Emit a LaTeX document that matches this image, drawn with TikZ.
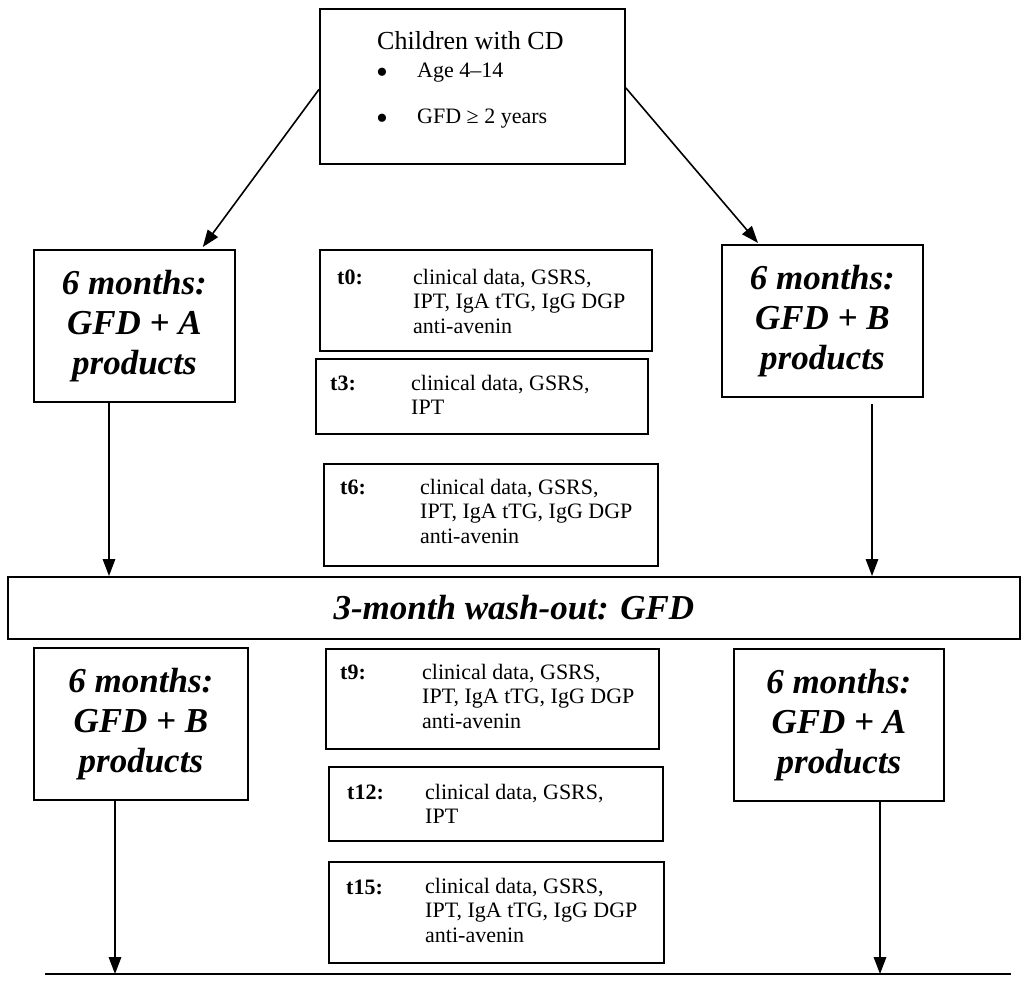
\documentclass[tikz,border=0pt]{standalone}
\usepackage{fontspec}
\setmainfont{Liberation Serif}
\usetikzlibrary{arrows.meta,calc}
\begin{document}
\begin{tikzpicture}[x=1pt,y=-1pt,
  box/.style={draw,line width=1.8pt,inner sep=0pt,anchor=north west},
  arr/.style={line width=1.6pt,-{Triangle[length=17pt,width=12.5pt]}},
  big/.style={font=\fontsize{35}{40}\selectfont\bfseries\itshape,align=center},
  small/.style={font=\fontsize{22}{24.5}\selectfont,anchor=west,align=left,inner sep=0pt},
  bul/.style={font=\fontsize{34}{34}\selectfont,anchor=center,inner sep=0pt},
  lab/.style={font=\fontsize{22}{24.5}\selectfont\bfseries,anchor=west,inner sep=0pt}]
\useasboundingbox (0,0) rectangle (1024,987);
\fill[white] (0,0) rectangle (1024,987);

% top box
\node[box,minimum width=305pt,minimum height=155pt] (top) at (319,8) {};
\node[font=\fontsize{26}{30}\selectfont,anchor=west,inner sep=0pt] (title) at (377,41) {Children with CD};
\node[bul] (b1) at (382,76) {•};
\node[small] (i1) at (417,73) {Age 4–14};
\node[bul] (b2) at (382,122) {•};
\node[small] (i2) at (417,119) {GFD ≥ 2 years};

% arm boxes
\node[box,big,minimum width=201pt,minimum height=152pt] (a1) at (33,249) {6 months:\\GFD + A\\products};
\node[box,big,minimum width=201pt,minimum height=152pt] (b1box) at (721,244) {6 months:\\GFD + B\\products};
\node[box,big,minimum width=214pt,minimum height=152pt] (b2box) at (33,647) {6 months:\\GFD + B\\products};
\node[box,big,minimum width=210pt,minimum height=152pt] (a2) at (733,648) {6 months:\\GFD + A\\products};

% washout
\node[box,big,minimum width=1012pt,minimum height=62pt] (wash) at (7,576) {3-month wash-out: GFD};

% time point boxes
\node[box,minimum width=332pt,minimum height=101pt] (t0) at (319,249) {};
\node[lab] (t0l) at (337,277) {t0:};
\node[small] (t0t) at (413,301) {clinical data, GSRS,\\IPT, IgA tTG, IgG DGP\\anti-avenin};

\node[box,minimum width=332pt,minimum height=75pt] (t3) at (315,358) {};
\node[lab] (t3l) at (330,383) {t3:};
\node[small] (t3t) at (411,395) {clinical data, GSRS,\\IPT};

\node[box,minimum width=334pt,minimum height=102pt] (t6) at (323,463) {};
\node[lab] (t6l) at (340,487) {t6:};
\node[small] (t6t) at (420,511) {clinical data, GSRS,\\IPT, IgA tTG, IgG DGP\\anti-avenin};

\node[box,minimum width=333pt,minimum height=100pt] (t9) at (325,648) {};
\node[lab] (t9l) at (340,672) {t9:};
\node[small] (t9t) at (422,696) {clinical data, GSRS,\\IPT, IgA tTG, IgG DGP\\anti-avenin};

\node[box,minimum width=334pt,minimum height=74pt] (t12) at (328,766) {};
\node[lab] (t12l) at (347,792) {t12:};
\node[small] (t12t) at (425,804) {clinical data, GSRS,\\IPT};

\node[box,minimum width=335pt,minimum height=101pt] (t15) at (328,861) {};
\node[lab] (t15l) at (346,887) {t15:};
\node[small] (t15t) at (425,910) {clinical data, GSRS,\\IPT, IgA tTG, IgG DGP\\anti-avenin};

% connectors
\coordinate (s1) at ($(top.west)+(0,3)$);
\coordinate (e1) at ($(a1.north east)+(-33,-2)$);
\draw[arr] (s1) -- (e1);
\coordinate (s2) at ($(top.east)+(0,1.5)$);
\coordinate (e2) at ($(b1box.north west)+(37,-1)$);
\draw[arr] (s2) -- (e2);

\coordinate (p1) at ($(a1.south west)+(76,0)$);
\draw[arr] (p1) -- (p1 |- wash.north);
\coordinate (p2) at ($(b1box.south west)+(151,6)$);
\draw[arr] (p2) -- (p2 |- wash.north);

\coordinate (bl) at (45,974);
\coordinate (br) at (1011,974);
\draw[line width=1.8pt] (bl) -- (br);

\coordinate (p3) at ($(b2box.south west)+(82,0)$);
\draw[arr] (p3) -- (p3 |- bl);
\coordinate (p4) at ($(a2.south west)+(147,0)$);
\draw[arr] (p4) -- (p4 |- bl);
\end{tikzpicture}
\end{document}
